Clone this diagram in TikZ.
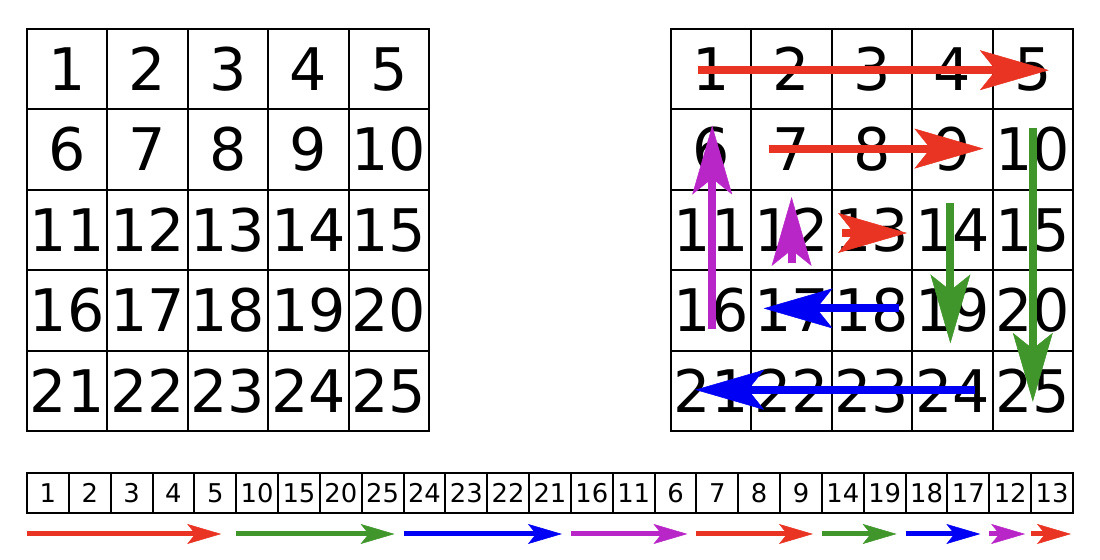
\documentclass[tikz,border=0pt]{standalone}
\usepackage{fontspec}
\setmainfont{DejaVu Sans}
\usetikzlibrary{arrows.meta,calc}
\definecolor{pathred}{RGB}{233,51,35}
\definecolor{pathgreen}{RGB}{64,150,43}
\definecolor{pathblue}{RGB}{0,0,245}
\definecolor{pathpurple}{RGB}{185,38,200}

\begin{document}
\begin{tikzpicture}[x=0.02cm,y=-0.02cm,
    bigcell/.style={draw,line width=0.04cm,minimum size=1.608cm,inner sep=0pt,text height=24.3pt,text depth=0pt,font=\fontsize{33.4}{40}\selectfont},
    stripcell/.style={draw,line width=0.04cm,minimum width=0.8368cm,minimum height=0.8cm,inner sep=0pt,text height=10.7pt,text depth=0pt,font=\fontsize{14.7}{17}\selectfont},
    bigarrow/.style={line width=0.16cm,-{Stealth[length=1.38cm,width=0.8cm,inset=0.32cm,line width=0.3pt]}},
    smallarrow/.style={line width=0.1cm,-{Stealth[length=0.68cm,width=0.4cm,inset=0.16cm,line width=0.3pt]}}]
          \useasboundingbox (0,0) rectangle (1100,560);
          % the two 5x5 grids
          \foreach \r in {0,...,4}
            \foreach \c in {1,...,5}{
              \pgfmathtruncatemacro\n{5*\r+\c}
              \node[bigcell] (L\n) at (-13.2+80.4*\c,69.2+80.4*\r) {\n};   % left grid
              \node[bigcell] (R\n) at (630.8+80.4*\c,69.2+80.4*\r) {\n};   % right grid
            }
          % the strip with the visiting order
          \foreach \v [count=\i from 0] in {1,2,3,4,5,10,15,20,25,24,23,22,21,16,11,6,7,8,9,14,19,18,17,12,13}
            \node[stripcell] (S\v) at (47.92+41.84*\i,493) {\v};
          % spiral in the right grid
          \draw[bigarrow,pathred]    ($(R1)+(-13,1)$)  -- ($(R5)+(16,1)$);     % 1 to 5
          \draw[bigarrow,pathgreen]  ($(R10)+(0,-22)$) -- ($(R25)+(0,11)$);    % 10 to 25
          \draw[bigarrow,pathblue]   ($(R24)+(23,-1)$) -- ($(R21)+(-16,-1)$);  % 24 to 21
          \draw[bigarrow,pathpurple] ($(R16)+(1,19)$)  -- ($(R6)+(1,-24)$);    % 16 to 6
          \draw[bigarrow,pathred]    ($(R7)+(-23,-1)$) -- ($(R9)+(31,-1)$);    % 7 to 9
          \draw[bigarrow,pathgreen]  ($(R14)+(-2,-27)$) -- ($(R19)+(-2,33)$);  % 14 to 19
          \draw[bigarrow,pathblue]   ($(R18)+(27,-2)$) -- ($(R17)+(-28,-2)$);  % 18 to 17
          \draw[bigarrow,pathpurple] ($(R12)+(0,33)$)  -- ($(R12)+(0,-33)$);   % 12
          \draw[bigarrow,pathred]    ($(R13)+(-30,3)$) -- ($(R13)+(35,3)$);    % 13
          % arrows under the strip
          \draw[smallarrow,pathred]    ($(S1.south west)+(1,20)$)  -- ($(S5.south east)+(-16,20)$);
          \draw[smallarrow,pathgreen]  ($(S10.south west)+(1,20)$) -- ($(S25.south east)+(-10,20)$);
          \draw[smallarrow,pathblue]   ($(S24.south west)+(1,20)$) -- ($(S21.south east)+(-10,20)$);
          \draw[smallarrow,pathpurple] ($(S16.south west)+(1,20)$) -- ($(S6.south east)+(-10,20)$);
          \draw[smallarrow,pathred]    ($(S7.south west)+(1,20)$)  -- ($(S9.south east)+(-10,20)$);
          \draw[smallarrow,pathgreen]  ($(S14.south west)+(1,20)$) -- ($(S19.south east)+(-10,20)$);
          \draw[smallarrow,pathblue]   ($(S18.south west)+(1,20)$) -- ($(S17.south east)+(-10,20)$);
          \draw[smallarrow,pathpurple] ($(S12.south west)+(1,20)$) -- ($(S12.south east)+(-7,20)$);
          \draw[smallarrow,pathred]    ($(S13.south west)+(1,20)$) -- ($(S13.south east)+(-3,20)$);
\end{tikzpicture}
\end{document}
